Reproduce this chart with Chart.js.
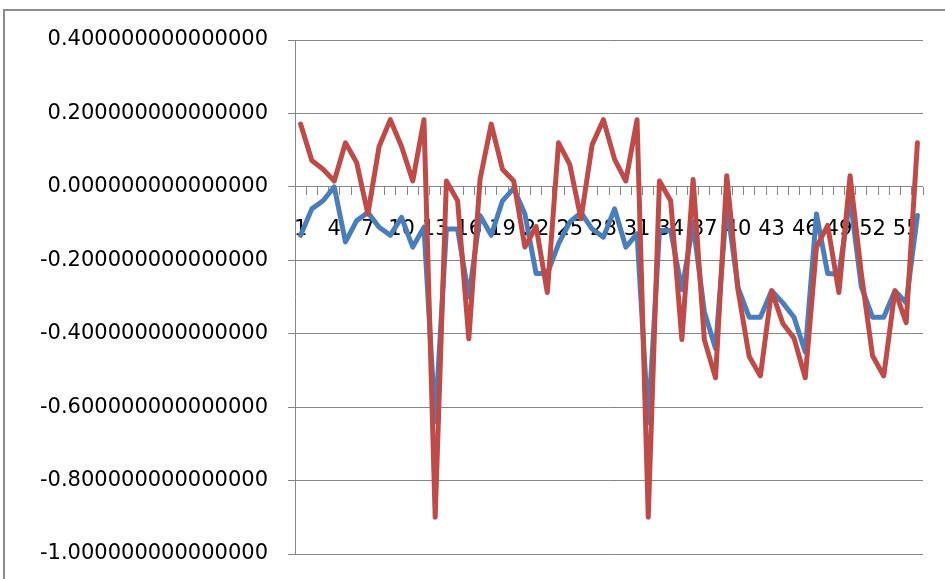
<!DOCTYPE html>
<html>
<head>
<meta charset="utf-8">
<script src="https://cdn.jsdelivr.net/npm/chart.js@4.4.1/dist/chart.umd.min.js"></script>
<style>
  body { margin: 0; background: #fff; }
  canvas { display: block; }
</style>
</head>
<body>
<canvas id="myChart" width="945" height="579"></canvas>
<script>
const categories = ['1', '2', '3', '4', '5', '6', '7', '8', '9', '10',
    '11', '12', '13', '14', '15', '16', '17', '18', '19', '20',
    '21', '22', '23', '24', '25', '26', '27', '28', '29', '30',
    '31', '32', '33', '34', '35', '36', '37', '38', '39', '40',
    '41', '42', '43', '44', '45', '46', '47', '48', '49', '50',
    '51', '52', '53', '54', '55', '56'];

const blueValues = [-0.132, -0.060, -0.038, 0.000, -0.150, -0.092, -0.070, -0.110, -0.132, -0.083,
    -0.164, -0.110, -0.640, -0.115, -0.115, -0.300, -0.078, -0.132, -0.038, -0.004,
    -0.074, -0.236, -0.236, -0.155, -0.096, -0.070, -0.115, -0.137, -0.060, -0.164,
    -0.128, -0.642, -0.119, -0.119, -0.280, -0.100, -0.340, -0.440, -0.047, -0.274,
    -0.355, -0.355, -0.283, -0.316, -0.355, -0.450, -0.074, -0.236, -0.238, -0.030,
    -0.272, -0.355, -0.355, -0.283, -0.316, -0.078];

const redValues = [0.171, 0.072, 0.048, 0.016, 0.120, 0.066, -0.074, 0.110, 0.183, 0.110,
    0.016, 0.183, -0.900, 0.016, -0.038, -0.414, 0.020, 0.171, 0.048, 0.016,
    -0.164, -0.108, -0.288, 0.120, 0.061, -0.087, 0.115, 0.183, 0.075, 0.016,
    0.183, -0.900, 0.016, -0.038, -0.416, 0.020, -0.416, -0.520, 0.030, -0.280,
    -0.462, -0.515, -0.283, -0.372, -0.412, -0.520, -0.164, -0.105, -0.288, 0.030,
    -0.236, -0.460, -0.515, -0.283, -0.370, 0.120];

// every third category gets a label, like the original
const labelEvery = 3;
const yMin = -1.0;
const yMax = 0.4;
const yStep = 0.2;

const axisGray = '#868686';

// white page, thin grey frame on the left and top, and nothing drawn past the plot's right edge
const frame = {
    id: 'frame',
    beforeDraw(chart) {
        const { ctx } = chart;
        ctx.save();
        ctx.fillStyle = '#fff';
        ctx.fillRect(0, 0, chart.width, chart.height);
        ctx.strokeStyle = '#8c8c8c';
        ctx.lineWidth = 2;
        ctx.beginPath();
        ctx.moveTo(4, chart.height + 5);
        ctx.lineTo(4, 10);
        ctx.lineTo(chart.width + 5, 10);
        ctx.stroke();
        ctx.restore();
        ctx.save();
        ctx.beginPath();
        ctx.rect(0, 0, chart.chartArea.right + 3, chart.height);
        ctx.clip();
    },
    afterDraw(chart) {
        chart.ctx.restore();
    }
};

new Chart(document.getElementById('myChart'), {
    type: 'line',
    data: {
        labels: categories,
        datasets: [{
            label: 'Series1',
            data: blueValues,
            borderColor: '#4A7EBB',
            borderWidth: 5,
            pointRadius: 0,
            tension: 0,
            borderJoinStyle: 'round',
            borderCapStyle: 'round',
            order: 1
        }, {
            label: 'Series2',
            data: redValues,
            borderColor: '#BE4B48',
            borderWidth: 5,
            pointRadius: 0,
            tension: 0,
            borderJoinStyle: 'round',
            borderCapStyle: 'round',
            order: 0
        }]
    },
    options: {
        responsive: false,
        animation: false,
        layout: {
            padding: { left: 0, top: 40, right: 22, bottom: 25 }
        },
        plugins: {
            legend: { display: false },
            tooltip: { enabled: false }
        },
        scales: {
            x: {
                position: { y: 0 },
                offset: true,
                grid: {
                    offset: true,
                    drawOnChartArea: false,
                    drawTicks: true,
                    tickLength: 8,
                    color: axisGray
                },
                border: { display: false },
                ticks: {
                    autoSkip: false,
                    maxRotation: 0,
                    minRotation: 0,
                    padding: 22,
                    color: '#000',
                    font: { family: 'DejaVu Sans', size: 21 },
                    callback: (value, index) => (index % labelEvery === 0 ? categories[index] : '')
                }
            },
            y: {
                min: yMin,
                max: yMax,
                afterFit: (scale) => { scale.width = 295; },
                grid: {
                    color: axisGray,
                    tickLength: 7
                },
                border: { display: true, color: axisGray, width: 1 },
                ticks: {
                    stepSize: yStep,
                    padding: 20,
                    color: '#000',
                    // small lineHeight keeps the label overflow from eating the plot bottom
                    font: { family: 'DejaVu Sans', size: 21, lineHeight: 0.4 },
                    callback: (value) => (Math.abs(value) < 1e-9 ? 0 : value).toFixed(15)
                }
            }
        }
    },
    plugins: [frame]
});
</script>
</body>
</html>
